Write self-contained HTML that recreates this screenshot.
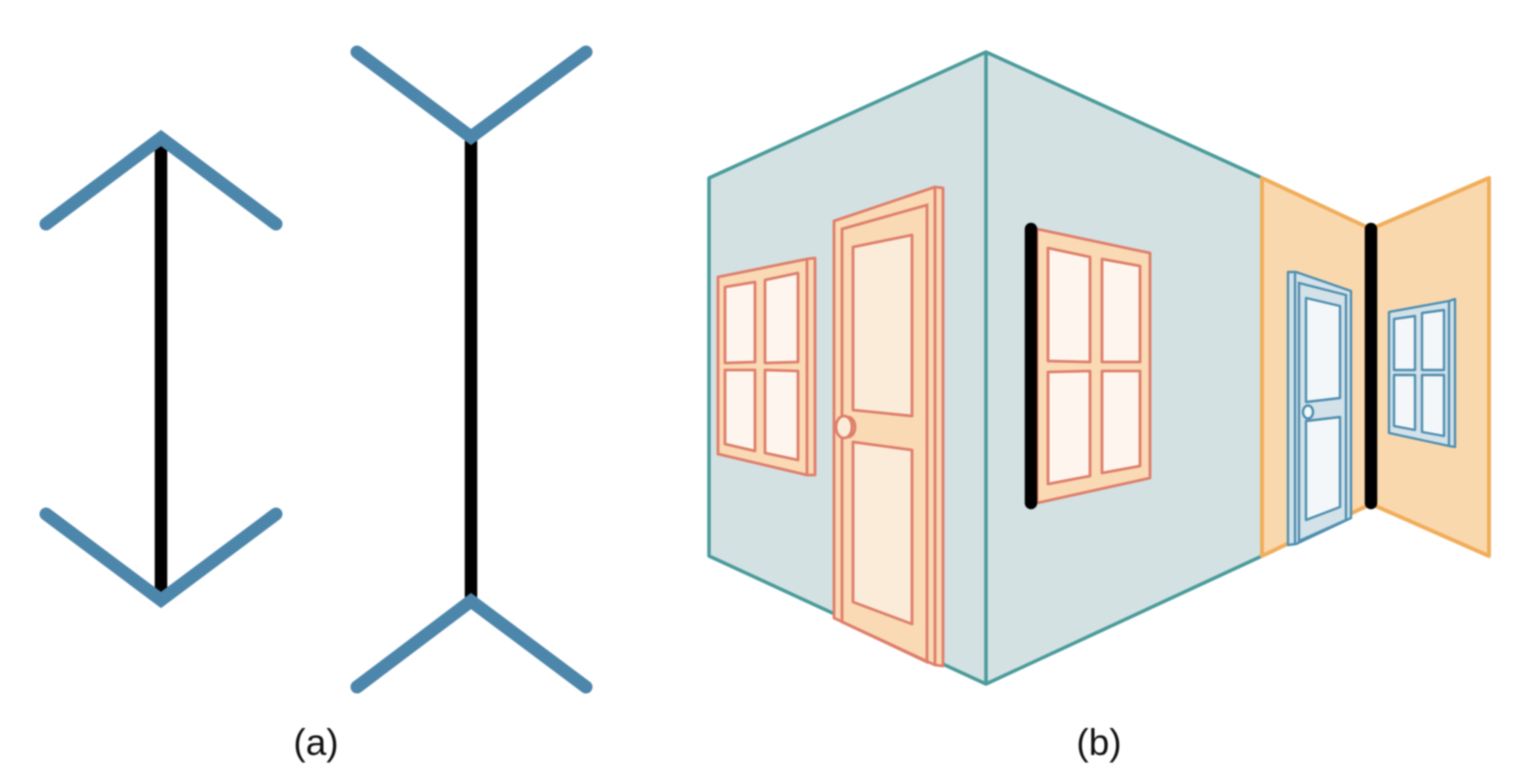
<!DOCTYPE html>
<html>
<head>
<meta charset="utf-8">
<style>
html,body{margin:0;padding:0;background:#fff;width:1516px;height:783px;overflow:hidden}
svg{display:block;filter:blur(0.7px)}
text{font-family:"Liberation Sans",sans-serif;font-size:37px;fill:#111}
.arrow{fill:none;stroke:#4d86ab;stroke-width:13;stroke-linecap:round;stroke-linejoin:miter}
.bar{stroke:#000;stroke-width:12.5;stroke-linecap:round}
.wall{fill:#d3e1e3;stroke:#4b9b9b;stroke-width:3.5;stroke-linejoin:round}
.owall{fill:#fad8ae;stroke:#f0ae5c;stroke-width:4;stroke-linejoin:round}
.o{fill:#fad9b5;stroke:#de7f6b;stroke-width:2.8;stroke-linejoin:round}
.op{fill:#fbecd9;stroke:#de7f6b;stroke-width:2.8;stroke-linejoin:round}
.ow{fill:#fef6ee;stroke:#de7f6b;stroke-width:2.8;stroke-linejoin:round}
.ol{stroke:#de7f6b;stroke-width:2.8;fill:none}
.b{fill:#d3e1e8;stroke:#4f8fb0;stroke-width:2.4;stroke-linejoin:round}
.bp{fill:#f3f7fa;stroke:#4f8fb0;stroke-width:2.4;stroke-linejoin:round}
.bl{stroke:#4f8fb0;stroke-width:2.4;fill:none}
</style>
</head>
<body>
<svg width="1516" height="783" viewBox="0 0 1516 783" xmlns="http://www.w3.org/2000/svg">
<!-- (a) figures -->
<line class="bar" x1="161" y1="140" x2="161" y2="596"/>
<polyline class="arrow" points="46,224 161,138 276,224"/>
<polyline class="arrow" points="46,514 161,600 276,514"/>
<line class="bar" x1="471" y1="140" x2="471" y2="596"/>
<polyline class="arrow" points="357,52 471,137 586,52"/>
<polyline class="arrow" points="357,687 471,601 586,687"/>

<!-- teal walls -->
<polygon class="wall" points="709,178 986,52 1262,178 1262,556 986,684 709,556"/>
<line x1="986" y1="52" x2="986" y2="684" stroke="#4b9b9b" stroke-width="3.5"/>
<!-- orange walls -->
<polygon class="owall" points="1262,178 1371,229 1371,504 1262,556"/>
<polygon class="owall" points="1489,178 1371,229 1371,504 1489,556"/>

<!-- left window -->
<polygon class="o" points="718,277 807,259 815,258 815,475 807,475 718,454"/>
<line class="ol" x1="807" y1="259" x2="807" y2="475"/>
<polygon class="ow" points="725,287 755,282 755,362 725,363"/>
<polygon class="ow" points="765,280 798,273 798,362 765,363"/>
<polygon class="ow" points="725,370 755,370 755,451 725,444"/>
<polygon class="ow" points="765,370 798,371 798,460 765,453"/>

<!-- big door -->
<polygon class="o" points="834,221 935,187 943,188 943,666 935,665 834,618"/>
<polygon class="ol" points="842,229 927,205 927,662 842,622"/>
<line class="ol" x1="935" y1="187" x2="935" y2="665"/>
<polygon class="op" points="853,247 912,235 912,416 853,410"/>
<polygon class="op" points="853,442 912,450 912,624 853,602"/>
<ellipse cx="848" cy="427" rx="7" ry="10" class="o"/>
<ellipse cx="844" cy="427" rx="8" ry="11" fill="#fbecd9" stroke="#de7f6b" stroke-width="2.8"/>

<!-- middle window -->
<polygon class="o" points="1037,229 1150,253 1150,478 1037,503"/>
<polygon class="ow" points="1048,248 1090,257 1090,362 1048,361"/>
<polygon class="ow" points="1102,259 1140,266 1140,362 1102,362"/>
<polygon class="ow" points="1048,372 1090,371 1090,476 1048,484"/>
<polygon class="ow" points="1102,371 1140,371 1140,466 1102,473"/>
<line class="bar" x1="1031" y1="229" x2="1031" y2="503"/>

<!-- blue door -->
<polygon class="b" points="1288,272 1296,272 1351,291 1351,518 1296,544 1288,545"/>
<line class="bl" x1="1295" y1="272" x2="1295" y2="544"/>
<polygon class="bl" points="1299,283 1346,295 1346,520 1299,541"/>
<polygon class="bp" points="1306,298 1340,306 1340,398 1306,402"/>
<polygon class="bp" points="1306,421 1340,417 1340,507 1306,520"/>
<ellipse cx="1308" cy="412" rx="5" ry="6.5" fill="#f3f7fa" stroke="#4f8fb0" stroke-width="2.4"/>

<!-- blue window -->
<polygon class="b" points="1389,312 1449,301 1455,299 1455,447 1449,446 1389,433"/>
<line class="bl" x1="1449" y1="301" x2="1449" y2="446"/>
<polygon class="bp" points="1394,319 1415,316 1415,370 1394,370"/>
<polygon class="bp" points="1422,313 1444,310 1444,370 1422,370"/>
<polygon class="bp" points="1394,375 1415,375 1415,430 1394,426"/>
<polygon class="bp" points="1422,375 1444,375 1444,436 1422,432"/>

<line class="bar" x1="1371" y1="229" x2="1371" y2="503"/>

<text x="316" y="755" text-anchor="middle">(a)</text>
<text x="1099" y="755" text-anchor="middle">(b)</text>
</svg>
</body>
</html>
